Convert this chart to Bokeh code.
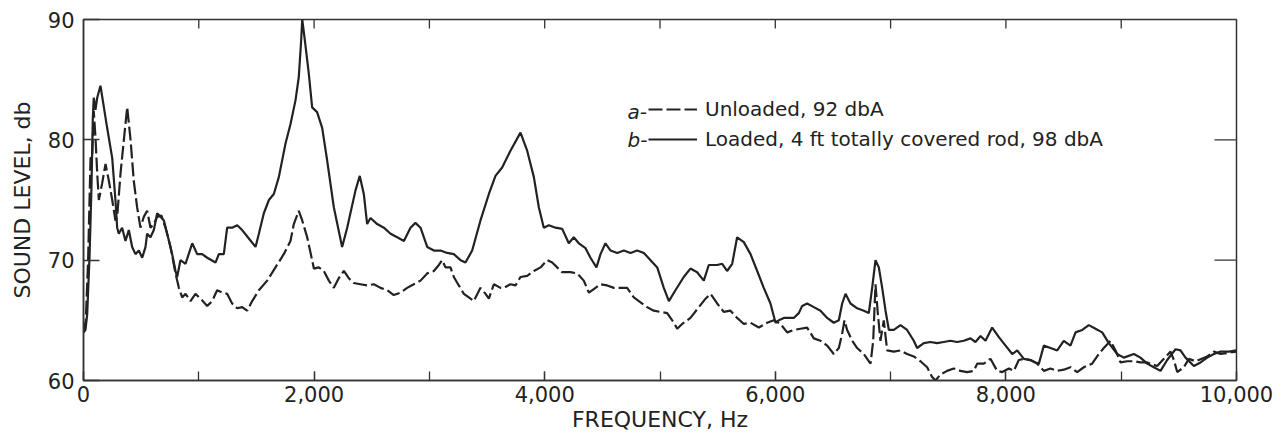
import math
from bokeh.plotting import figure
from bokeh.models import (Range1d, SingleIntervalTicker, FixedTicker,
                          NumeralTickFormatter, Legend, LegendItem, Label)
from bokeh.embed import file_html
from bokeh.resources import INLINE

# ---- data ----
loaded_freq = [0, 17, 32, 52, 69, 81, 89, 104, 119, 147, 205, 249, 277, 292, 306, 335, 364, 393, 422, 451,
               480, 509, 538, 552, 581, 610, 639, 668, 697, 726, 769, 798, 812, 841, 885, 943, 986, 1029, 1073, 1145,
               1174, 1217, 1246, 1289, 1333, 1376, 1434, 1492, 1521, 1564, 1608, 1651, 1694, 1752, 1795, 1839, 1867, 1888, 1897, 1917,
               1954, 1983, 2026, 2070, 2113, 2171, 2243, 2287, 2359, 2396, 2431, 2460, 2489, 2547, 2605, 2663, 2721, 2779, 2836, 2879,
               2923, 2981, 3039, 3096, 3154, 3212, 3270, 3313, 3371, 3443, 3516, 3573, 3631, 3703, 3790, 3848, 3906, 3949, 3992, 4036,
               4094, 4152, 4209, 4252, 4296, 4354, 4397, 4449, 4484, 4527, 4571, 4629, 4686, 4744, 4802, 4860, 4918, 4976, 5033, 5077,
               5134, 5206, 5264, 5322, 5380, 5423, 5496, 5539, 5582, 5626, 5669, 5727, 5785, 5843, 5900, 5958, 6002, 6031, 6074, 6117,
               6160, 6204, 6233, 6276, 6334, 6392, 6450, 6507, 6551, 6580, 6609, 6652, 6710, 6768, 6811, 6840, 6869, 6898, 6927, 6956,
               6985, 7028, 7086, 7143, 7201, 7230, 7288, 7346, 7403, 7461, 7519, 7577, 7635, 7693, 7736, 7780, 7823, 7881, 7939, 7997,
               8055, 8098, 8156, 8213, 8257, 8286, 8329, 8387, 8445, 8502, 8560, 8604, 8662, 8719, 8777, 8835, 8893, 8965, 9023, 9110,
               9167, 9225, 9283, 9341, 9399, 9471, 9514, 9558, 9630, 9688, 9746, 9804, 9861, 9933, 10000]
loaded_db = [64.0, 64.2, 65.5, 70.2, 76.0, 81.9, 83.5, 82.5, 83.5, 84.5, 81.0, 78.5, 75.0, 72.7, 72.2, 72.7, 71.6, 72.5, 71.1, 70.5,
             70.8, 70.2, 71.1, 72.2, 71.9, 72.5, 73.9, 73.6, 73.3, 72.2, 70.5, 69.1, 68.6, 70.0, 69.7, 71.4, 70.5, 70.5, 70.2, 69.8,
             70.5, 70.5, 72.7, 72.7, 72.9, 72.5, 71.8, 71.1, 72.2, 73.9, 75.0, 75.5, 76.9, 79.7, 81.3, 83.3, 85.2, 88.3, 90.0, 88.5,
             85.5, 82.7, 82.3, 81.0, 78.3, 74.4, 71.1, 72.7, 75.8, 77.0, 75.5, 73.0, 73.5, 73.0, 72.7, 72.2, 71.9, 71.6, 72.7, 73.1,
             72.7, 71.1, 70.8, 70.8, 70.6, 70.5, 70.0, 69.8, 70.8, 73.3, 75.5, 77.0, 77.7, 79.1, 80.6, 79.1, 76.9, 74.4, 72.7, 72.9,
             72.7, 72.6, 71.4, 71.9, 71.4, 71.0, 70.2, 69.4, 70.5, 71.4, 70.8, 70.6, 70.8, 70.6, 70.8, 70.6, 70.0, 69.4, 67.7, 66.6,
             67.5, 68.6, 69.3, 69.0, 68.3, 69.6, 69.6, 69.7, 69.1, 69.7, 71.9, 71.5, 70.5, 69.1, 67.7, 66.4, 64.8, 65.0, 65.2, 65.2,
             65.2, 65.6, 66.2, 66.4, 66.1, 65.8, 65.2, 64.8, 65.0, 66.4, 67.2, 66.4, 66.0, 65.8, 65.6, 67.7, 70.0, 69.4, 67.7, 65.8,
             64.2, 64.2, 64.6, 64.2, 63.3, 62.7, 63.1, 63.2, 63.1, 63.2, 63.3, 63.2, 63.3, 63.5, 63.2, 63.7, 63.3, 64.4, 63.6, 62.9,
             62.2, 62.5, 61.8, 61.7, 61.5, 61.4, 62.9, 62.7, 62.5, 63.3, 62.9, 64.0, 64.2, 64.6, 64.3, 64.0, 63.1, 62.2, 61.9, 62.2,
             61.9, 61.4, 61.1, 60.8, 61.7, 62.6, 62.5, 61.9, 61.2, 61.5, 61.9, 62.2, 62.4, 62.4, 62.5]

unloaded_freq = [0, 20, 40, 61, 75, 89, 104, 119, 133, 162, 191, 220, 249, 277, 292, 321, 350, 379, 408, 436,
                 465, 494, 523, 552, 581, 610, 639, 676, 711, 755, 798, 827, 856, 885, 928, 971, 1015, 1073, 1116, 1159,
                 1203, 1246, 1289, 1333, 1376, 1419, 1463, 1521, 1593, 1665, 1737, 1795, 1824, 1867, 1897, 1940, 1983, 1998, 2041, 2084,
                 2128, 2171, 2214, 2258, 2301, 2344, 2402, 2460, 2518, 2576, 2634, 2691, 2749, 2807, 2865, 2923, 2981, 3039, 3082, 3111,
                 3140, 3183, 3212, 3255, 3299, 3342, 3385, 3443, 3487, 3516, 3559, 3617, 3646, 3703, 3747, 3790, 3848, 3906, 3964, 4022,
                 4065, 4108, 4152, 4224, 4282, 4339, 4383, 4426, 4484, 4542, 4600, 4671, 4715, 4773, 4831, 4888, 4946, 5004, 5062, 5120,
                 5149, 5192, 5264, 5337, 5395, 5438, 5496, 5553, 5611, 5669, 5727, 5785, 5857, 5929, 5987, 6045, 6103, 6160, 6218, 6276,
                 6334, 6392, 6450, 6507, 6551, 6580, 6600, 6623, 6667, 6710, 6768, 6826, 6849, 6869, 6889, 6912, 6941, 6970, 7028, 7086,
                 7143, 7201, 7259, 7317, 7360, 7389, 7432, 7490, 7548, 7606, 7664, 7722, 7751, 7808, 7866, 7924, 7968, 8026, 8069, 8112,
                 8156, 8213, 8271, 8329, 8387, 8445, 8502, 8560, 8618, 8676, 8748, 8806, 8849, 8907, 8951, 8994, 9052, 9110, 9167, 9225,
                 9312, 9370, 9428, 9457, 9486, 9543, 9587, 9645, 9746, 9804, 9861, 9933, 10000]
unloaded_db = [64.0, 65.0, 70.0, 78.5, 78.5, 82.4, 80.2, 77.2, 75.0, 76.4, 78.0, 76.6, 75.0, 73.3, 73.6, 77.2, 80.0, 82.7, 80.0, 76.6,
               74.4, 72.7, 73.6, 74.1, 72.7, 73.0, 73.6, 73.7, 72.7, 71.1, 68.9, 67.7, 66.9, 67.2, 66.6, 67.2, 66.8, 66.2, 66.6, 67.5,
               67.3, 67.2, 66.4, 66.0, 66.1, 65.8, 66.6, 67.5, 68.3, 69.4, 70.5, 71.6, 73.0, 74.1, 73.3, 71.9, 70.0, 69.3, 69.4, 69.1,
               68.3, 67.7, 68.5, 69.1, 68.5, 68.1, 68.0, 67.9, 68.0, 67.7, 67.5, 67.1, 67.3, 67.7, 68.0, 68.3, 68.9, 69.1, 69.6, 70.0,
               69.4, 69.4, 68.6, 67.9, 67.2, 66.9, 66.6, 67.7, 67.2, 66.8, 68.0, 67.7, 67.7, 68.0, 67.9, 68.6, 68.7, 69.1, 69.4, 70.0,
               69.8, 69.4, 69.0, 69.0, 68.9, 68.3, 67.3, 67.6, 68.0, 67.9, 67.7, 67.7, 67.7, 66.9, 66.5, 66.1, 65.8, 65.7, 65.6, 64.8,
               64.3, 64.7, 65.2, 66.1, 66.8, 67.2, 66.4, 65.7, 65.8, 65.2, 64.7, 64.8, 64.4, 64.8, 65.0, 64.7, 64.0, 64.2, 64.3, 64.4,
               63.5, 63.3, 62.9, 62.2, 62.7, 63.9, 65.0, 64.2, 63.3, 62.7, 62.2, 61.4, 63.3, 68.0, 65.6, 63.3, 65.0, 62.5, 62.4, 62.5,
               62.2, 62.0, 61.6, 61.1, 60.3, 60.0, 60.5, 60.8, 61.0, 60.8, 60.7, 60.8, 61.4, 61.4, 61.8, 60.8, 60.7, 61.0, 60.8, 61.7,
               61.8, 61.7, 61.4, 60.8, 61.0, 60.8, 60.9, 61.1, 60.7, 61.1, 61.4, 62.2, 62.7, 63.3, 62.5, 61.5, 61.6, 61.6, 61.5, 61.5,
               61.2, 61.8, 62.4, 61.7, 60.7, 61.1, 61.8, 61.6, 62.0, 62.4, 62.2, 62.3, 62.4]

x_ticks_top = [1000, 2000, 3000, 4000, 5000, 6000, 7000, 8000, 9000]
y_ticks_right = [70, 80]

x_label = "FREQUENCY, Hz"
y_label = "SOUND LEVEL, db"
label_a = "Unloaded, 92 dbA"
label_b = "Loaded, 4 ft totally covered rod, 98 dbA"

FONT = "DejaVu Sans"
INK = "#222222"
FRAME = "#333333"

p = figure(width=1276, height=438, x_range=Range1d(0, 10000), y_range=Range1d(60, 90),
           output_backend="svg", toolbar_location=None,
           min_border_left=83, min_border_right=40, min_border_top=19, min_border_bottom=58)
p.grid.visible = False
p.outline_line_color = FRAME
p.outline_line_width = 1.5

r_a = p.line(unloaded_freq, unloaded_db, line_color=INK, line_width=2.2, line_dash="14 4")
r_b = p.line(loaded_freq, loaded_db, line_color=INK, line_width=2.2)

# inward tick marks on the top and right frame edges
p.ray(x=x_ticks_top, y=[90] * len(x_ticks_top), length=9, length_units="screen",
      angle=-math.pi / 2, line_color=FRAME, line_width=1.3)
p.ray(x=[10000] * len(y_ticks_right), y=y_ticks_right, length=22, length_units="screen",
      angle=math.pi, line_color=FRAME, line_width=1.3)

# bottom axis
xa = p.xaxis[0]
xa.ticker = SingleIntervalTicker(interval=2000, num_minor_ticks=2)
xa.formatter = NumeralTickFormatter(format="0,0")
xa.axis_label = x_label
# left axis
ya = p.yaxis[0]
ya.ticker = FixedTicker(ticks=[60, 70, 80, 90])
ya.axis_label = y_label

for ax in (xa, ya):
    ax.axis_line_color = FRAME
    ax.axis_line_width = 1.5
    ax.major_tick_line_color = FRAME
    ax.minor_tick_line_color = FRAME
    ax.major_tick_line_width = 1.3
    ax.minor_tick_line_width = 1.3
    ax.major_tick_out = 0
    ax.minor_tick_out = 0
    ax.major_label_text_font = FONT
    ax.major_label_text_color = INK
    ax.major_label_text_font_size = "21px"
    ax.axis_label_text_font = FONT
    ax.axis_label_text_color = INK
    ax.axis_label_text_font_size = "22px"
    ax.axis_label_text_font_style = "normal"

xa.major_tick_in = 9
xa.minor_tick_in = 9
xa.major_label_standoff = 5
xa.axis_label_standoff = 2
ya.major_tick_in = 16
ya.minor_tick_in = 0
ya.major_label_standoff = 9
ya.axis_label_standoff = 10

legend = Legend(items=[LegendItem(label=label_a, renderers=[r_a]),
                       LegendItem(label=label_b, renderers=[r_b])],
                location=(565, 229), orientation="vertical",
                border_line_color=None, background_fill_alpha=0,
                padding=0, margin=0, spacing=6,
                glyph_width=49, glyph_height=22, label_height=22, label_standoff=8,
                label_text_font=FONT, label_text_font_size="20px", label_text_color=INK)
p.add_layout(legend)

for txt, yv in (("a-", 82.3), ("b-", 80.0)):
    p.add_layout(Label(x=4718, y=yv, text=txt, text_font=FONT, text_font_style="italic",
                       text_font_size="20px", text_color=INK, text_baseline="middle"))

open("out.html", "w").write(file_html(p, INLINE))
